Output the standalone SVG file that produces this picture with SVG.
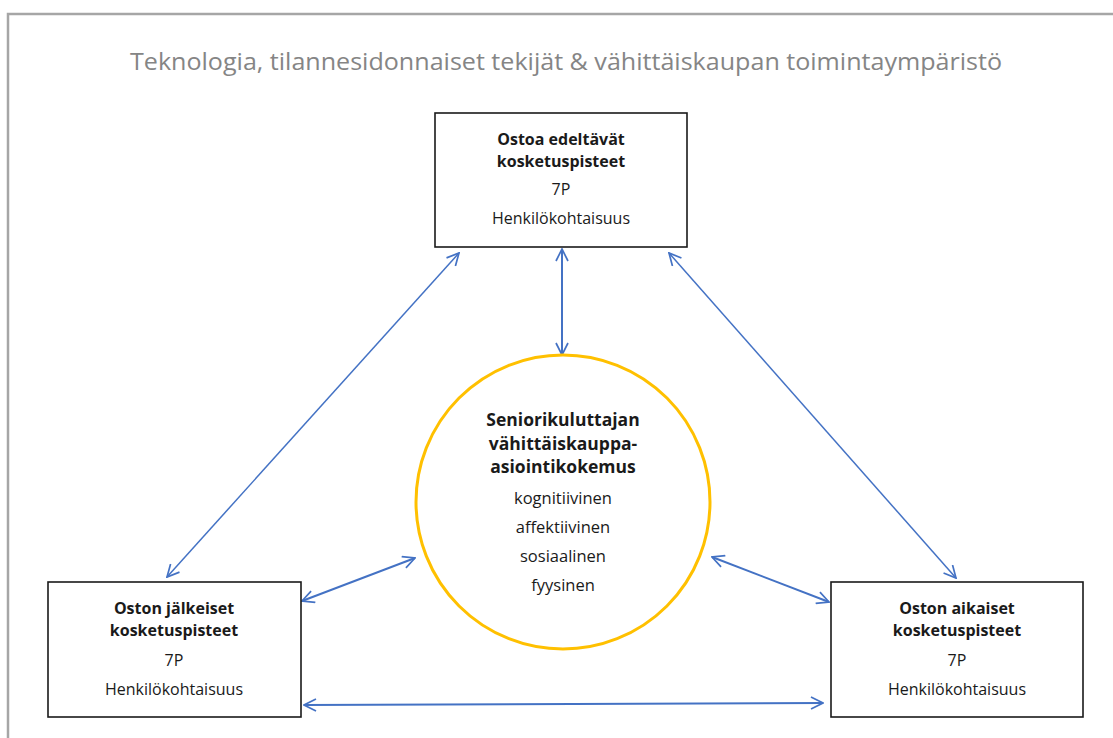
<svg xmlns="http://www.w3.org/2000/svg" width="1113" height="738" viewBox="0 0 1113 738">
<style>
.frame{fill:none;stroke:#a6a6a6;stroke-width:2.5}
.title{font-family:"Open Sans","Liberation Sans",sans-serif;font-size:24px;fill:#858585;text-anchor:middle}
.box{fill:#ffffff;stroke:#1a1a1a;stroke-width:1.6}
.circ{fill:#ffffff;stroke:#ffc000;stroke-width:3}
.t{font-family:"Open Sans","Liberation Sans",sans-serif;font-size:16px;fill:#1a1a1a;text-anchor:middle}
.b{font-weight:bold}
.ct{font-size:16.5px}
.cb{font-size:17.5px}
.con{fill:none;stroke:#4472c4;marker-start:url(#ah);marker-end:url(#ah)}
.thin{stroke-width:1.5}
.thick{stroke-width:2}
</style>
<defs>
<marker id="ah" viewBox="0 0 14 14" refX="13" refY="7" markerWidth="14" markerHeight="14" markerUnits="userSpaceOnUse" orient="auto-start-reverse">
<path d="M1,1 L13,7 L1,13" fill="none" stroke="#4472c4" stroke-width="1.7"/>
</marker>
</defs>
<rect width="1113" height="738" fill="#ffffff"/>
<path class="frame" d="M8,740 L8,14 L1115,14"/>
<text class="title" x="566" y="70" textLength="872" lengthAdjust="spacingAndGlyphs">Teknologia, tilannesidonnaiset tekijät &amp; vähittäiskaupan toimintaympäristö</text>

<g id="connectors">
<line class="con thick" x1="562" y1="249" x2="562" y2="355"/>
<line class="con thin" x1="459" y1="253" x2="167" y2="577"/>
<line class="con thin" x1="669" y1="253" x2="956" y2="578"/>
<line class="con thick" x1="302" y1="601" x2="415" y2="558"/>
<line class="con thick" x1="712" y1="557" x2="829" y2="602"/>
<line class="con thick" x1="304" y1="705" x2="823" y2="703"/>
</g>

<g id="node-top">
<rect class="box" x="435" y="113" width="252" height="134"/>
<text class="t b" x="561" y="145">Ostoa edeltävät</text>
<text class="t b" x="561" y="167">kosketuspisteet</text>
<text class="t" x="561" y="195">7P</text>
<text class="t" x="561" y="224">Henkilökohtaisuus</text>
</g>

<g id="node-center">
<circle class="circ" cx="563" cy="502" r="147"/>
<text class="t b cb" x="563" y="426">Seniorikuluttajan</text>
<text class="t b cb" x="563" y="450">vähittäiskauppa-</text>
<text class="t b cb" x="563" y="473">asiointikokemus</text>
<text class="t ct" x="563" y="504">kognitiivinen</text>
<text class="t ct" x="563" y="533">affektiivinen</text>
<text class="t ct" x="563" y="562">sosiaalinen</text>
<text class="t ct" x="563" y="591">fyysinen</text>
</g>

<g id="node-left">
<rect class="box" x="48" y="582" width="253" height="135"/>
<text class="t b" x="174" y="614">Oston jälkeiset</text>
<text class="t b" x="174" y="636">kosketuspisteet</text>
<text class="t" x="174" y="666">7P</text>
<text class="t" x="174" y="695">Henkilökohtaisuus</text>
</g>

<g id="node-right">
<rect class="box" x="831" y="582" width="252" height="135"/>
<text class="t b" x="957" y="614">Oston aikaiset</text>
<text class="t b" x="957" y="636">kosketuspisteet</text>
<text class="t" x="957" y="666">7P</text>
<text class="t" x="957" y="695">Henkilökohtaisuus</text>
</g>
</svg>
